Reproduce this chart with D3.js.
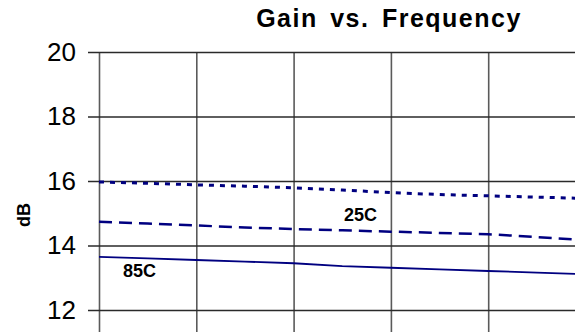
<!DOCTYPE html>
<html>
<head>
<meta charset="utf-8">
<script src="https://cdn.jsdelivr.net/npm/d3@7"></script>
<style>
  html, body { margin: 0; padding: 0; background: #fff; }
  svg { display: block; }
  text { font-family: "Liberation Sans", Arial, sans-serif; }
</style>
</head>
<body>
<svg id="chart" width="575" height="332"></svg>
<script>
// Frequency points (MHz) and gain (dB) per temperature
const freqs   = [0, 250, 500, 750, 1000, 1250, 1500, 1750, 2000, 2250, 2500];
const gainCold = [15.97, 15.93, 15.88, 15.84, 15.79, 15.72, 15.64, 15.58, 15.54, 15.50, 15.46];
const gain25C  = [14.74, 14.68, 14.62, 14.56, 14.51, 14.47, 14.43, 14.39, 14.35, 14.26, 14.17];
const gain85C  = [13.65, 13.60, 13.55, 13.50, 13.45, 13.36, 13.31, 13.26, 13.21, 13.16, 13.11];
const yTicks = [12, 14, 16, 18, 20];
const xTicks = [0, 500, 1000, 1500, 2000, 2500, 3000];

const svg = d3.select("#chart");
const plotLeft = 99, plotTop = 52;

const x = d3.scaleLinear().domain([0, 3000]).range([plotLeft, plotLeft + 6 * 97.3]);
const y = d3.scaleLinear().domain([10, 20]).range([plotTop + 322.5, plotTop]);

const navy = "#000080";

// vertical grid lines
svg.append("g")
  .attr("transform", `translate(0,${plotTop})`)
  .call(d3.axisTop(x).tickValues(xTicks).tickSize(-400).tickFormat(""))
  .call(g => g.select(".domain").remove())
  .call(g => g.selectAll(".tick line").attr("stroke", "#5a5a5a").attr("stroke-width", 1.6));

// horizontal grid lines with tick labels
svg.append("g")
  .attr("transform", `translate(88,0)`)
  .call(d3.axisLeft(y).tickValues(yTicks).tickSize(-600).tickPadding(12).tickFormat(d3.format("d")))
  .call(g => g.select(".domain").remove())
  .call(g => g.selectAll(".tick line").attr("stroke", "#2a2a2a").attr("stroke-width", 1.3))
  .call(g => g.selectAll(".tick text")
    .attr("fill", "#000")
    .style("font-family", "'Liberation Sans', Arial, sans-serif")
    .style("font-size", "26px"));

// series
const line = d3.line().x((d, i) => x(freqs[i])).y(d => y(d));

svg.append("path").datum(gain85C)
  .attr("d", line).attr("fill", "none")
  .attr("stroke", navy).attr("stroke-width", 1.8);

svg.append("path").datum(gain25C)
  .attr("d", line).attr("fill", "none")
  .attr("stroke", navy).attr("stroke-width", 2.5)
  .attr("stroke-dasharray", "13,7");

svg.append("path").datum(gainCold)
  .attr("d", line).attr("fill", "none")
  .attr("stroke", navy).attr("stroke-width", 3)
  .attr("stroke-dasharray", "5,6");

// series labels
svg.append("text").attr("x", 123).attr("y", 277)
  .style("font-size", "18px").style("font-weight", "bold").text("85C");
svg.append("text").attr("x", 344).attr("y", 221)
  .style("font-size", "18px").style("font-weight", "bold").text("25C");

// axis title
svg.append("text")
  .attr("transform", "translate(30,215) rotate(-90)")
  .attr("text-anchor", "middle")
  .style("font-size", "18px").style("font-weight", "bold").text("dB");

// chart title
svg.append("text")
  .attr("x", 389).attr("y", 27)
  .attr("text-anchor", "middle")
  .style("font-size", "25px").style("font-weight", "bold")
  .style("letter-spacing", "1.5px").style("word-spacing", "4px")
  .text("Gain vs. Frequency");
</script>
</body>
</html>
